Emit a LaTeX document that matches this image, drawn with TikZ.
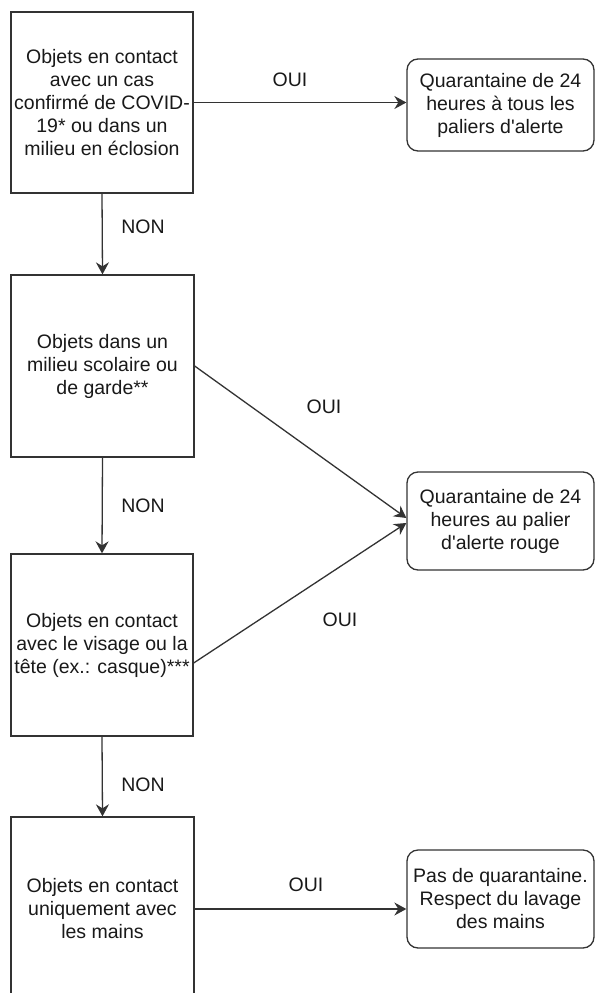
\documentclass[tikz,border=0pt]{standalone}
\usepackage{fontspec}
\setmainfont{Liberation Sans}[Ligatures=ResetAll]
\usetikzlibrary{arrows.meta,calc}
\begin{document}
\begin{tikzpicture}[x=1pt,y=-1pt,
  box/.style={draw=black!80, line width=1.3pt, fill=white, align=center, inner sep=0pt,
    text=black!90, font=\fontsize{19.5}{23}\selectfont},
  qbox/.style={box, minimum width=182pt, minimum height=182pt},
  rbox/.style={box, rounded corners=11pt, minimum width=187pt},
  lab/.style={text=black!90, font=\fontsize{19.5}{23}\selectfont, inner sep=0pt},
  arr/.style={draw=black!80, line width=1.3pt, -{Stealth[length=12pt,width=13pt,inset=4pt]}}]
\useasboundingbox (0,0) rectangle (595,993);
\fill[white] (0,0) rectangle (595,993);

\node[qbox, minimum height=181pt] (b1) at (102,102.5) {Objets en contact\\avec un cas\\confirmé de COVID-\\19* ou dans un\\milieu en éclosion};
\node[qbox, minimum width=183pt] (b2) at (102.5,366) {Objets dans un\\milieu scolaire ou\\de garde**};
\node[qbox] (b3) at (102,645) {Objets en contact\\avec le visage ou la\\tête (ex.: casque)***};
\node[qbox, minimum width=183pt, minimum height=184pt] (b4) at (102.5,909) {Objets en contact\\uniquement avec\\les mains};

\node[rbox, minimum height=92pt] (r1) at (500.5,105) {Quarantaine de 24\\heures à tous les\\paliers d\textquotesingle alerte};
\node[rbox, minimum height=98pt] (r2) at (500.5,521) {Quarantaine de 24\\heures au palier\\d\textquotesingle alerte rouge};
\node[rbox, minimum height=98pt] (r3) at (500.5,899) {Pas de quarantaine.\\Respect du lavage\\des mains};

\draw[arr] (b1.east) -- (b1.east -| r1.west);
\draw[arr] (b1.south) -- (b2.north);
\draw[arr] (b2.south) -- (b3.north);
\draw[arr] (b3.south) -- (b4.north);
\draw[arr] (b2.east) -- ($(r2.west)+(0,-3)$);
\draw[arr] ($(b3.east)+(0,18)$) -- ($(r2.west)+(0,2)$);
\draw[arr] (b4.east) -- (b4.east -| r3.west);

\node[lab] (o1) at (290,80) {OUI};
\node[lab] (n1) at (143,227) {NON};
\node[lab] (o2) at (324,407) {OUI};
\node[lab] (n2) at (143,506) {NON};
\node[lab] (o3) at (340,620) {OUI};
\node[lab] (n3) at (143,785) {NON};
\node[lab] (o4) at (306,885) {OUI};
\end{tikzpicture}
\end{document}
